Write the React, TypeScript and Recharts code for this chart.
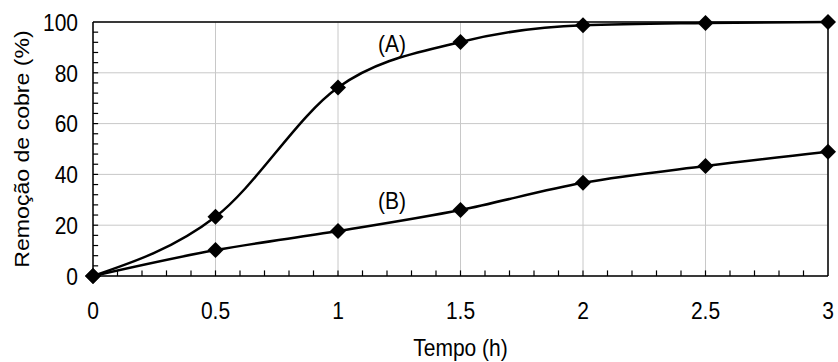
import {
  LineChart,
  Line,
  XAxis,
  YAxis,
  CartesianGrid,
  ReferenceLine,
  ReferenceDot,
  Label,
} from 'recharts';

const times = [0, 0.5, 1, 1.5, 2, 2.5, 3];
const removalA = [0, 23.3, 74.2, 92.1, 98.7, 99.6, 100];
const removalB = [0, 10.2, 17.7, 26, 36.7, 43.3, 48.9];
const xTicks = [0, 0.5, 1, 1.5, 2, 2.5, 3];
const yTicks = [0, 20, 40, 60, 80, 100];
// minor tick marks (0.1 h on x, 4 % on y)
const xMinorTicks = Array.from({ length: 29 }, (_, i) => (i + 1) / 10);
const yMinorTicks = Array.from({ length: 24 }, (_, i) => (i + 1) * 4);

const data = times.map((t, i) => ({ t, a: removalA[i], b: removalB[i] }));

const FONT = '"Liberation Sans", Arial, sans-serif';
const SY = 1.17; // text in the original is a bit taller than wide

const renderDiamond = (p: any) => {
  const { cx, cy, index } = p;
  if (cx == null || cy == null) return <g key={index} />;
  const r = 8;
  return (
    <polygon
      key={index}
      points={`${cx},${cy - r} ${cx + r},${cy} ${cx},${cy + r} ${cx - r},${cy}`}
      fill="#000"
    />
  );
};

const XTick = ({ x, y, payload }: any) => (
  <text
    transform={`translate(${x},${y}) scale(1,${SY})`}
    textAnchor="middle"
    dy="0.71em"
    fontSize={21}
    fontFamily={FONT}
    fill="#000"
  >
    {payload.value}
  </text>
);

const YTick = ({ x, y, payload }: any) => (
  <text
    transform={`translate(${x},${y}) scale(1,${SY})`}
    textAnchor="end"
    dy="0.355em"
    fontSize={21}
    fontFamily={FONT}
    fill="#000"
  >
    {payload.value}
  </text>
);

const CurveLabel = (text: string) => (props: any) => {
  const vb = props.viewBox || {};
  return (
    <text
      transform={`translate(${vb.x},${vb.y}) scale(1,${SY})`}
      textAnchor="middle"
      dy="0.355em"
      fontSize={21}
      fontFamily={FONT}
      fill="#000"
    >
      {text}
    </text>
  );
};

export default function App() {
  return (
    <div style={{ position: 'absolute', left: 0, top: 0, background: '#fff' }}>
      <LineChart width={838} height={362} data={data} margin={{ top: 22, right: 10, left: 0, bottom: 0 }}>
        <CartesianGrid stroke="#c8c8c8" strokeWidth={1} />
        <XAxis
          type="number"
          dataKey="t"
          domain={[0, 3]}
          ticks={xTicks}
          interval={0}
          height={86}
          tickSize={0}
          tickMargin={26}
          tickLine={false}
          axisLine={{ stroke: '#000', strokeWidth: 1.5 }}
          tick={<XTick />}
        >
          <Label
            content={(props: any) => {
              const vb = props.viewBox || {};
              return (
                <text
                  transform={`translate(${vb.x + vb.width / 2},${vb.y + 80}) scale(1,${SY})`}
                  textAnchor="middle"
                  fontSize={21}
                  fontFamily={FONT}
                  fill="#000"
                >
                  Tempo (h)
                </text>
              );
            }}
          />
        </XAxis>
        <YAxis
          type="number"
          domain={[0, 100]}
          ticks={yTicks}
          interval={0}
          width={93}
          tickSize={0}
          tickMargin={15}
          tickLine={false}
          axisLine={{ stroke: '#000', strokeWidth: 1.5 }}
          tick={<YTick />}
        >
          <Label
            content={(props: any) => {
              const vb = props.viewBox || {};
              const cx = vb.x + 22;
              const cy = vb.y + vb.height / 2;
              return (
                <text
                  transform={`translate(${cx},${cy}) rotate(-90) scale(1.1,1)`}
                  textAnchor="middle"
                  dominantBaseline="central"
                  fontSize={21}
                  fontFamily={FONT}
                  fill="#000"
                >
                  Remoção de cobre (%)
                </text>
              );
            }}
          />
        </YAxis>
        <ReferenceLine x={3} stroke="#000" strokeWidth={1.5} />
        <ReferenceLine y={100} stroke="#000" strokeWidth={1.5} />
        {xMinorTicks.map((v) => (
          <ReferenceLine
            key={`xm${v}`}
            segment={[{ x: v, y: 0 }, { x: v, y: 2.2 }]}
            stroke="#000"
            strokeWidth={1.2}
          />
        ))}
        {yMinorTicks.map((v) => (
          <ReferenceLine
            key={`ym${v}`}
            segment={[{ x: 0, y: v }, { x: 0.021, y: v }]}
            stroke="#000"
            strokeWidth={1.2}
          />
        ))}
        <Line
          type="monotone"
          dataKey="a"
          stroke="#000"
          strokeWidth={2.5}
          dot={renderDiamond}
          activeDot={false}
          isAnimationActive={false}
        />
        <Line
          type="monotone"
          dataKey="b"
          stroke="#000"
          strokeWidth={2.5}
          dot={renderDiamond}
          activeDot={false}
          isAnimationActive={false}
        />
        <ReferenceDot x={1.22} y={91.6} r={0} fill="none" stroke="none" label={CurveLabel('(A)')} />
        <ReferenceDot x={1.22} y={29.9} r={0} fill="none" stroke="none" label={CurveLabel('(B)')} />
      </LineChart>
    </div>
  );
}
